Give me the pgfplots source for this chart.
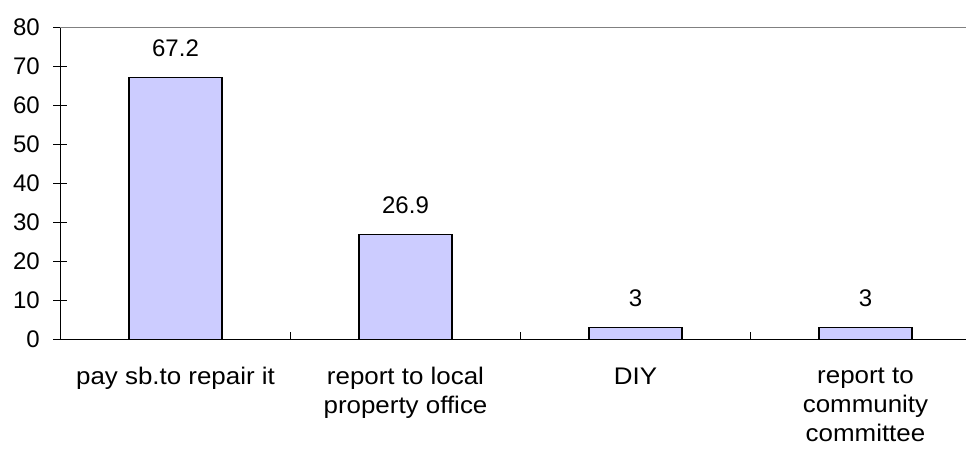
\documentclass[border=0pt]{standalone}
\usepackage{fontspec}
\setmainfont{Liberation Sans}
\newfontfamily\catfont{Liberation Sans}[FakeStretch=1.08]
\usepackage{pgfplots}
\pgfplotsset{compat=1.18}
\definecolor{barfill}{HTML}{CCCCFF}
\begin{document}
\fontsize{24bp}{29bp}\selectfont
\begin{tikzpicture}
\begin{axis}[
  name=ax,
  at={(0,0)}, anchor=south west,
  scale only axis,
  width=905.5bp, height=311.6bp,
  xmin=-0.5, xmax=3.437,
  ymin=0, ymax=80,
  axis y line*=left,
  axis x line*=bottom,
  axis line style={line width=1.5bp, black, -},
  tick align=inside,
  major tick length=7bp,
  ytick={0,10,...,80},
  ytick style={line width=1.5bp, black},
  extra y ticks={0,10,...,80},
  extra y tick labels={},
  extra y tick style={tick style={xshift=-7bp}},
  yticklabel style={xshift=-12.5bp, font=\fontsize{24bp}{29bp}\selectfont},
  /pgf/number format/assume math mode=true,
  xtick={0.5,1.5,2.5},
  xticklabels={},
  xtick style={line width=1.5bp, black, yshift=7bp},
  extra x ticks={0,1,2,3},
  extra x tick labels={pay sb.to repair it, report to local\\property office, DIY, report to\\community\\committee},
  extra x tick style={tick style={draw=none}},
  xticklabel style={align=center, anchor=north, yshift=-13bp, font=\catfont\fontsize{24bp}{29bp}\selectfont},
  ybar,
  bar width=93bp,
  nodes near coords,
  nodes near coords style={font=\fontsize{24bp}{29bp}\selectfont, inner sep=5bp, yshift=15bp},
  clip=false,
]
\addplot[fill=barfill, draw=black, line width=1.5bp] coordinates {(0,67.2) (1,26.9) (2,3) (3,3)};
\draw[gray, line width=1.5bp] (rel axis cs:0,1) -- (rel axis cs:1,1);
\end{axis}
\pgfresetboundingbox
\path (-60.5bp,-113.7bp) rectangle (905.5bp,339.3bp);
\end{tikzpicture}
\end{document}
